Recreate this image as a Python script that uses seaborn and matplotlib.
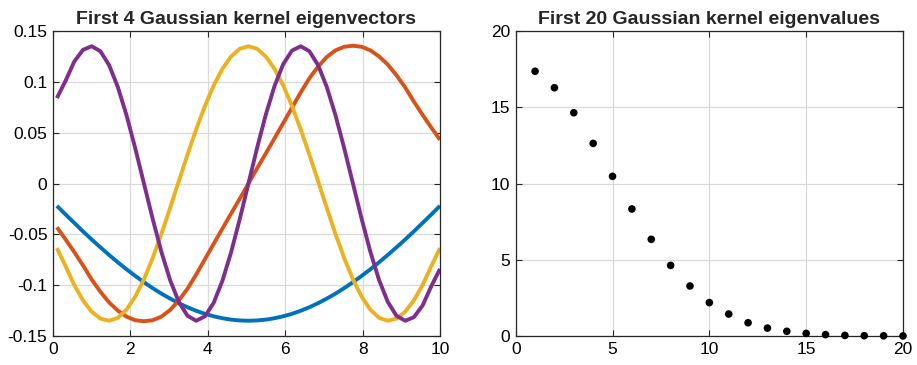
import numpy as np
import pandas as pd
import matplotlib
matplotlib.use("Agg")
import matplotlib.pyplot as plt
import seaborn as sns

# ---------------- data ----------------
x_grid = [0.1, 0.325, 0.55, 0.775, 1.0, 1.225, 1.45, 1.675, 1.9, 2.125,
          2.35, 2.575, 2.8, 3.025, 3.25, 3.475, 3.7, 3.925, 4.15, 4.375,
          4.6, 4.825, 5.05, 5.275, 5.5, 5.725, 5.95, 6.175, 6.4, 6.625,
          6.85, 7.075, 7.3, 7.525, 7.75, 7.975, 8.2, 8.425, 8.65, 8.875,
          9.1, 9.325, 9.55, 9.775, 10.0]

eigvec_1 = [-0.0220, -0.0305, -0.0388, -0.0471, -0.0551, -0.0628, -0.0703, -0.0775, -0.0844, -0.0909,
            -0.0971, -0.1029, -0.1083, -0.1132, -0.1177, -0.1217, -0.1252, -0.1282, -0.1306, -0.1325,
            -0.1339, -0.1347, -0.1350, -0.1347, -0.1339, -0.1325, -0.1306, -0.1282, -0.1252, -0.1217,
            -0.1177, -0.1132, -0.1083, -0.1029, -0.0971, -0.0909, -0.0844, -0.0775, -0.0703, -0.0628,
            -0.0551, -0.0471, -0.0388, -0.0305, -0.0220]

eigvec_2 = [-0.0430, -0.0550, -0.0675, -0.0805, -0.0945, -0.1065, -0.1170, -0.1250, -0.1310, -0.1345,
            -0.1355, -0.1345, -0.1310, -0.1245, -0.1150, -0.1035, -0.0895, -0.0745, -0.0595, -0.0445,
            -0.0297, -0.0150, 0.0000, 0.0150, 0.0297, 0.0445, 0.0595, 0.0745, 0.0895, 0.1035,
            0.1150, 0.1245, 0.1310, 0.1345, 0.1355, 0.1345, 0.1310, 0.1250, 0.1170, 0.1065,
            0.0945, 0.0805, 0.0675, 0.0550, 0.0430]

eigvec_3 = [-0.0635, -0.0813, -0.0999, -0.1150, -0.1261, -0.1329, -0.1350, -0.1321, -0.1241, -0.1113,
            -0.0942, -0.0734, -0.0497, -0.0242, 0.0023, 0.0283, 0.0533, 0.0762, 0.0963, 0.1127,
            0.1249, 0.1325, 0.1350, 0.1325, 0.1249, 0.1127, 0.0963, 0.0762, 0.0533, 0.0283,
            0.0023, -0.0242, -0.0497, -0.0734, -0.0942, -0.1113, -0.1241, -0.1321, -0.1350, -0.1329,
            -0.1261, -0.1150, -0.0999, -0.0813, -0.0635]

eigvec_4 = [0.0840, 0.1010, 0.1200, 0.1315, 0.1350, 0.1301, 0.1164, 0.0949, 0.0671, 0.0347,
            0.0000, -0.0347, -0.0671, -0.0949, -0.1164, -0.1301, -0.1350, -0.1307, -0.1175, -0.0960,
            -0.0679, -0.0352, 0.0000, 0.0352, 0.0679, 0.0960, 0.1175, 0.1307, 0.1350, 0.1301,
            0.1164, 0.0949, 0.0671, 0.0347, 0.0000, -0.0347, -0.0671, -0.0949, -0.1164, -0.1301,
            -0.1350, -0.1315, -0.1200, -0.1010, -0.0840]

eig_index = list(range(1, 21))
eigenvalues = [17.36, 16.28, 14.64, 12.63, 10.47, 8.33, 6.34, 4.63, 3.28, 2.19,
               1.44, 0.87, 0.52, 0.31, 0.17, 0.09, 0.04, 0.02, 0.01, 0.005]

left_title = "First 4 Gaussian kernel eigenvectors"
right_title = "First 20 Gaussian kernel eigenvalues"
left_xticks = [0, 2, 4, 6, 8, 10]
left_yticks = [-0.15, -0.1, -0.05, 0, 0.05, 0.1, 0.15]
left_yticklabels = ["-0.15", "-0.1", "-0.05", "0", "0.05", "0.1", "0.15"]
right_xticks = [0, 5, 10, 15, 20]
right_yticks = [0, 5, 10, 15, 20]

# ---------------- styling ----------------
sns.set_theme(style="white")
plt.rcParams["font.family"] = ["Liberation Sans", "DejaVu Sans"]
plt.rcParams["axes.unicode_minus"] = False

colors = ["#0072BD", "#D95319", "#EDB120", "#7E2F8E"]
names = ["v1", "v2", "v3", "v4"]

df = pd.concat([
    pd.DataFrame({"x": x_grid, "value": vals, "vec": name})
    for name, vals in zip(names, [eigvec_1, eigvec_2, eigvec_3, eigvec_4])
], ignore_index=True)

df_eig = pd.DataFrame({"k": eig_index, "lam": eigenvalues})

fig = plt.figure(figsize=(9.17, 3.65), dpi=100)
ax1 = fig.add_axes([53 / 917, 29 / 365, 387 / 917, 305 / 365])
ax2 = fig.add_axes([515.7 / 917, 29 / 365, 387.3 / 917, 305 / 365])

sns.lineplot(data=df, x="x", y="value", hue="vec", palette=colors,
             linewidth=2.8, sort=False, legend=False, ax=ax1)
for ln in ax1.lines:
    ln.set_solid_joinstyle("round")
    ln.set_solid_capstyle("butt")
sns.scatterplot(data=df_eig, x="k", y="lam", color="black", s=30,
                edgecolor="none", legend=False, ax=ax2, zorder=3)

text_col = "#262626"
for ax in (ax1, ax2):
    ax.set_xlabel("")
    ax.set_ylabel("")
    ax.grid(True, color="#d9d9d9", linewidth=0.9)
    ax.set_axisbelow(True)
    for sp in ax.spines.values():
        sp.set_visible(True)
        sp.set_color(text_col)
        sp.set_linewidth(0.9)
    ax.tick_params(direction="in", length=4, width=0.8, colors=text_col,
                   labelsize=12.5, top=True, right=True, bottom=True, left=True,
                   labelcolor="black", pad=4)

ax1.set_xlim(0, 10)
ax1.set_ylim(-0.15, 0.15)
ax1.set_xticks(left_xticks)
ax1.set_xticklabels([str(t) for t in left_xticks])
ax1.set_yticks(left_yticks)
ax1.set_yticklabels(left_yticklabels)
ax1.set_title(left_title, fontsize=14, fontweight="bold", pad=5)

ax2.set_xlim(0, 20)
ax2.set_ylim(0, 20)
ax2.set_xticks(right_xticks)
ax2.set_xticklabels([str(t) for t in right_xticks])
ax2.set_yticks(right_yticks)
ax2.set_yticklabels([str(t) for t in right_yticks])
ax2.set_title(right_title, fontsize=14, fontweight="bold", pad=5)
for c in ax2.collections:
    c.set_clip_on(False)

fig.savefig("out.png", dpi=100)
